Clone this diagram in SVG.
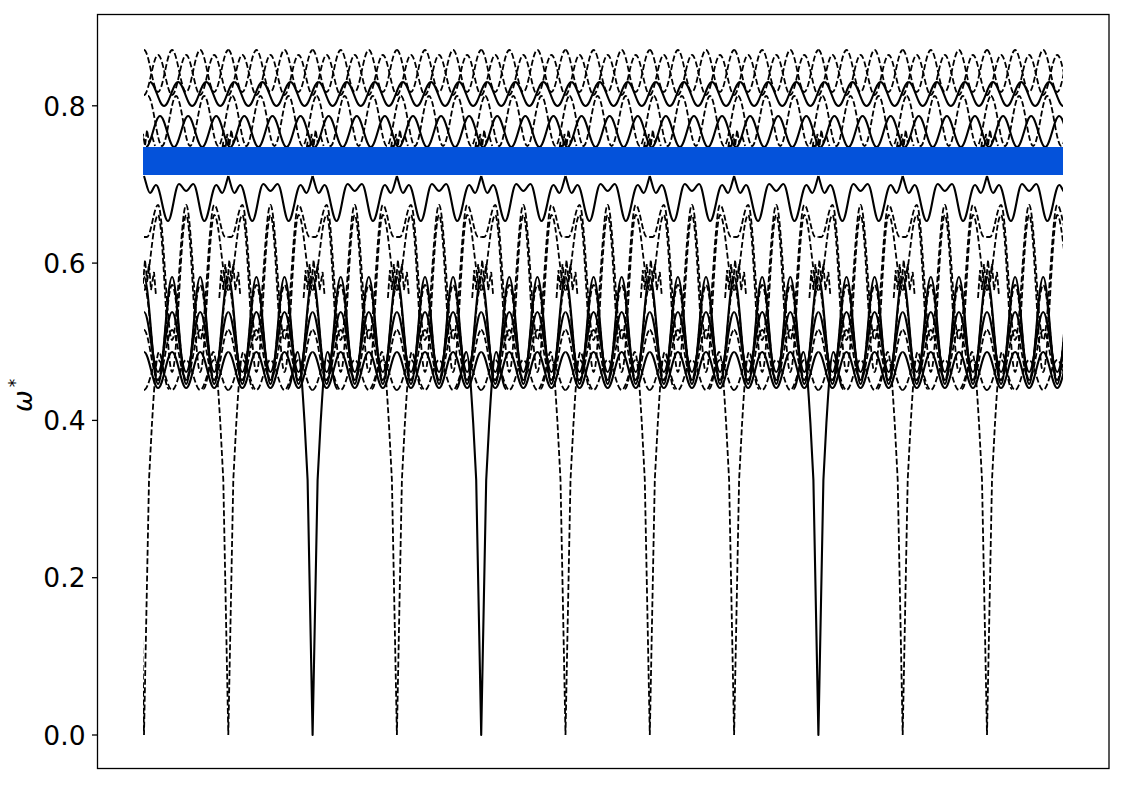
<svg xmlns="http://www.w3.org/2000/svg" width="1125" height="785" viewBox="0 0 1125 785">
<style>
.s{fill:none;stroke:#000;stroke-width:2.1;stroke-linejoin:round}
.d{fill:none;stroke:#000;stroke-width:1.8;stroke-dasharray:6 2.6}
.tick{stroke:#000;stroke-width:1.3}
.lbl{font-family:"DejaVu Sans",sans-serif;font-size:26.5px;fill:#000;text-anchor:end}
</style>
<defs>
<clipPath id="plot"><rect x="143" y="0" width="920" height="785"/></clipPath>
<path id="dip" d="M-25,389 C-21,389 -18,352 -15,352 C-12,352 -9.5,400 -8,423 L-5,480 L0,735 L5,480 L8,423 C9.5,400 12,352 15,352 C18,352 21,389 25,389"/>
<g id="tile">
<path class="s" d="M2,147 c5.106,0 8.944,-31 14.05,-31 s8.944,31 14.05,31 s8.944,-31 14.05,-31 s8.944,31 14.05,31 s8.944,-31 14.05,-31 s8.944,31 14.05,31"/>
<path class="s" d="M6,82 c5.106,0 8.944,24 14.05,24 s8.944,-24 14.05,-24 s8.944,24 14.05,24 s8.944,-24 14.05,-24 s8.944,24 14.05,24 s8.944,-24 14.05,-24"/>
<path class="d" d="M0,50 c5.106,0 8.944,42 14.05,42 s8.944,-42 14.05,-42 s8.944,42 14.05,42 s8.944,-42 14.05,-42 s8.944,42 14.05,42 s8.944,-42 14.05,-42"/>
<path class="d" d="M0,95 c5.106,0 8.944,-40 14.05,-40 s8.944,40 14.05,40 s8.944,-40 14.05,-40 s8.944,40 14.05,40 s8.944,-40 14.05,-40 s8.944,40 14.05,40"/>
<path class="d" d="M4,96 c5.106,0 8.944,50 14.05,50 s8.944,-50 14.05,-50 s8.944,50 14.05,50 s8.944,-50 14.05,-50 s8.944,50 14.05,50 s8.944,-50 14.05,-50"/>
<path class="d" d="M-7,156 L-5,142 L-3,150 L-1,134 L1,146 L3,130 L5,142 L8,136 L11,146"/>
<path class="s" d="M0,176 C2,182 4,193 6,193 C8.16,193 9.84,185 12,185 C16.32,185 19.68,221 24,221 C27.96,221 31.04,184 35,184 C37.57,184 39.58,191 42.15,191 C44.72,191 46.73,184 49.3,184 C53.26,184 56.34,221 60.3,221 C64.62,221 67.98,185 72.3,185 C74.46,185 76.14,193 78.3,193 C80.3,193 82.3,182 84.3,176"/>
<path class="d" d="M0,237 h3 c3.98,0 7.07,-32 11.05,-32 c5.106,0 8.944,135 14.05,135 s8.944,-135 14.05,-135 s8.944,135 14.05,135 s8.944,-135 14.05,-135 c3.98,0 7.07,32 11.05,32 h3"/>
<path class="d" d="M0,290 c5.106,0 8.944,-75 14.05,-75 c5.106,0 8.944,157 14.05,157 s8.944,-157 14.05,-157 s8.944,157 14.05,157 s8.944,-157 14.05,-157 c5.106,0 8.944,75 14.05,75"/>
<path class="d" d="M-9,298 L-7,270 L-5,290 L-3,264 L-1,284 L1,260 L3,280 L5,264 L7,290 L10,272 L12,296"/>
<path class="s" d="M0,277 c5.106,0 8.944,107 14.05,107 s8.944,-107 14.05,-107 s8.944,107 14.05,107 s8.944,-107 14.05,-107 s8.944,107 14.05,107 s8.944,-107 14.05,-107"/>
<path class="s" d="M0,312 c5.106,0 8.944,60 14.05,60 s8.944,-60 14.05,-60 s8.944,60 14.05,60 s8.944,-60 14.05,-60 s8.944,60 14.05,60 s8.944,-60 14.05,-60"/>
<path class="s" d="M0,352 c5.106,0 8.944,36 14.05,36 s8.944,-36 14.05,-36 s8.944,36 14.05,36 s8.944,-36 14.05,-36 s8.944,36 14.05,36 s8.944,-36 14.05,-36"/>
<path class="d" d="M0,285 c5.106,0 8.944,95 14.05,95 s8.944,-95 14.05,-95 s8.944,95 14.05,95 s8.944,-95 14.05,-95 s8.944,95 14.05,95 s8.944,-95 14.05,-95"/>
<path class="d" d="M0,390 c5.106,0 8.944,-30 14.05,-30 s8.944,30 14.05,30 s8.944,-30 14.05,-30 s8.944,30 14.05,30 s8.944,-30 14.05,-30 s8.944,30 14.05,30"/>
<path class="d" d="M0,330 c5.106,0 8.944,50 14.05,50 s8.944,-50 14.05,-50 s8.944,50 14.05,50 s8.944,-50 14.05,-50 s8.944,50 14.05,50 s8.944,-50 14.05,-50"/>
</g>
</defs>
<rect x="0" y="0" width="1125" height="785" fill="#fff"/>
<g id="bands" clip-path="url(#plot)">
<use href="#tile" x="144"/>
<use href="#tile" x="228.3"/>
<use href="#tile" x="312.6"/>
<use href="#tile" x="396.9"/>
<use href="#tile" x="481.2"/>
<use href="#tile" x="565.5"/>
<use href="#tile" x="649.8"/>
<use href="#tile" x="734.1"/>
<use href="#tile" x="818.4"/>
<use href="#tile" x="902.7"/>
<use href="#tile" x="987"/>
<use href="#dip" class="d" x="144"/>
<use href="#dip" class="d" x="228.3"/>
<use href="#dip" class="s" x="312.6"/>
<use href="#dip" class="d" x="396.9"/>
<use href="#dip" class="s" x="481.2"/>
<use href="#dip" class="d" x="565.5"/>
<use href="#dip" class="d" x="649.8"/>
<use href="#dip" class="d" x="734.1"/>
<use href="#dip" class="s" x="818.4"/>
<use href="#dip" class="d" x="902.7"/>
<use href="#dip" class="d" x="987"/>
</g>
<rect id="gap" x="143" y="147" width="920" height="28" fill="#0452DA"/>
<g id="axes">
<rect x="97.5" y="14.5" width="1011.5" height="754" fill="none" stroke="#000" stroke-width="1.3"/>
<line class="tick" x1="92" y1="735" x2="97.5" y2="735"/>
<line class="tick" x1="92" y1="577.7" x2="97.5" y2="577.7"/>
<line class="tick" x1="92" y1="420.4" x2="97.5" y2="420.4"/>
<line class="tick" x1="92" y1="263.1" x2="97.5" y2="263.1"/>
<line class="tick" x1="92" y1="105.8" x2="97.5" y2="105.8"/>
<text class="lbl" x="85.5" y="744.7">0.0</text>
<text class="lbl" x="85.5" y="587.4">0.2</text>
<text class="lbl" x="85.5" y="430.1">0.4</text>
<text class="lbl" x="85.5" y="272.8">0.6</text>
<text class="lbl" x="85.5" y="115.5">0.8</text>
<text transform="translate(32,412) rotate(-90)" font-family="DejaVu Sans, sans-serif" font-size="26" fill="#000"><tspan font-style="italic">ω</tspan><tspan dx="3" dy="-11" font-size="17">*</tspan></text>
</g>
</svg>
